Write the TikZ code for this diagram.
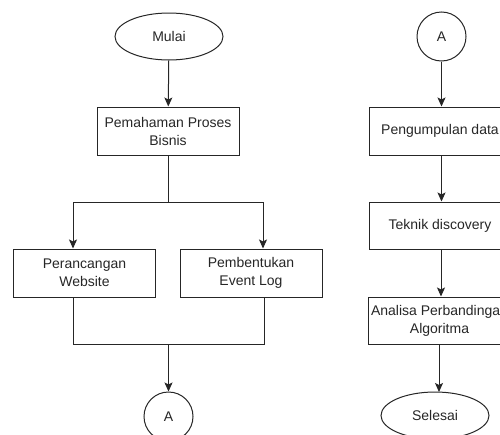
\documentclass[tikz,border=0pt]{standalone}
\usepackage{fontspec}
\setmainfont{Liberation Sans}
\usetikzlibrary{shapes.geometric,arrows.meta,calc}
\begin{document}
\begin{tikzpicture}[x=1pt,y=-1pt,
  every node/.style={font=\fontsize{14}{18}\selectfont, text=black!85},
  procbox/.style={draw=black!85, line width=1pt, rectangle, minimum width=142pt, minimum height=48pt, inner sep=0pt, align=center},
  term/.style={draw=black!85, line width=1pt, ellipse, minimum width=108pt, minimum height=47pt, inner sep=0pt},
  conn/.style={draw=black!85, line width=1pt, circle, minimum size=49pt, inner sep=0pt},
  flow/.style={draw=black!85, line width=1pt, -{Stealth[length=9pt,width=8pt,inset=2pt]}},
  plain/.style={draw=black!85, line width=1pt}]
\useasboundingbox (0,0) rectangle (500,434);
\clip (0,0) rectangle (500,434);
% left column
\node[term] (mulai) at (169,36.5) {Mulai};
\node[procbox] (pem) at (168,131) {Pemahaman Proses\\Bisnis};
\node[procbox] (per) at (84.5,273) {Perancangan\\Website};
\node[procbox] (pemb) at (251,273) {Pembentukan\\Event Log};
\node[conn] (a1) at (168.5,416.5) {A};
\coordinate (split) at (168,202);
\coordinate (merge) at (168.5,344);
% right column
\node[conn] (a2) at (441.5,36.5) {A};
\node[procbox] (peng) at (440,131) {Pengumpulan data};
\node[procbox, minimum height=47pt] (tek) at (440,225.5) {Teknik discovery};
\node[procbox, minimum height=47pt, minimum width=143pt] (ana) at (439.5,320.5) {Analisa Perbandingan\\Algoritma};
\node[term] (sel) at (435,415.5) {Selesai};
% connectors left
\draw[flow] (mulai) -- (pem);
\draw[plain] (pem.south) -- (split);
\draw[flow] (split) -| ([xshift=-11.5pt]per.north);
\draw[flow] (split) -| ([xshift=12pt]pemb.north);
\draw[plain] ([xshift=-11.5pt]per.south) |- (merge);
\draw[plain] ([xshift=13pt]pemb.south) |- (merge);
\draw[flow] (merge) -- (a1);
% connectors right
\draw[flow] (a2) -- (a2 |- peng.north);
\draw[flow] ([xshift=1.5pt]peng.south) -- ([xshift=1.5pt]tek.north);
\draw[flow] ([xshift=1pt]tek.south) -- ([xshift=1.5pt]ana.north);
\draw[flow] ([xshift=-0.5pt]ana.south) -- (439,392);
\end{tikzpicture}
\end{document}
